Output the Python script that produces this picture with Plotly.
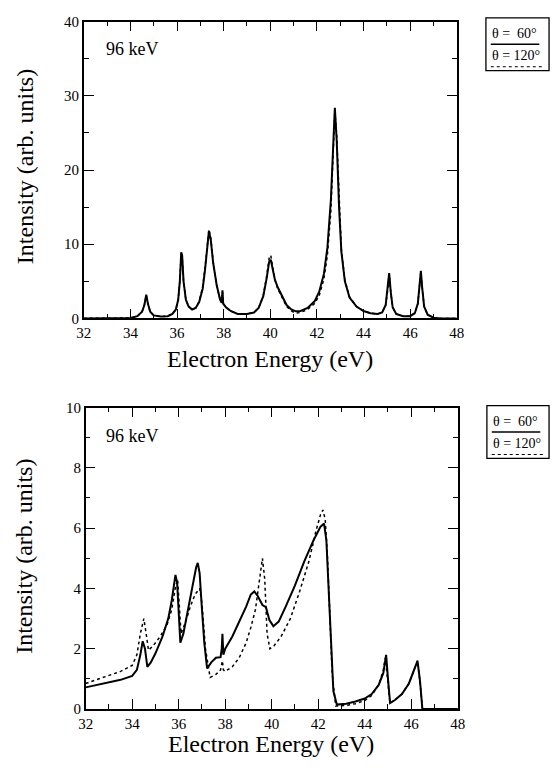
import plotly.graph_objects as go

# ---------------- data ----------------
top_x = [32.0, 33.5, 34.0, 34.3, 34.5, 34.6, 34.68, 34.75, 34.85, 35.0, 35.3, 35.6, 35.8, 35.95,
         36.05, 36.12, 36.18, 36.22, 36.28, 36.38, 36.5, 36.65, 36.8, 36.95, 37.1, 37.2, 37.3,
         37.37, 37.45, 37.55, 37.7, 37.85, 37.92, 37.95, 37.98, 38.1, 38.3, 38.6, 39.0, 39.3,
         39.5, 39.7, 39.85, 39.95, 40.02, 40.1, 40.2, 40.32, 40.5, 40.7, 40.9, 41.1, 41.3, 41.6,
         41.9, 42.1, 42.3, 42.45, 42.6, 42.7, 42.77, 42.85, 42.95, 43.05, 43.2, 43.4, 43.7, 44.0,
         44.3, 44.6, 44.8, 44.95, 45.02, 45.1, 45.17, 45.25, 45.4, 45.7, 46.0, 46.2, 46.33, 46.4,
         46.46, 46.52, 46.6, 46.75, 47.0, 47.3, 48.0]
top_y60 = [0, 0, 0.05, 0.3, 0.9, 1.8, 3.2, 2.0, 0.9, 0.4, 0.25, 0.3, 0.6, 1.2,
           2.5, 5.0, 8.9, 8.5, 5.0, 2.5, 1.6, 1.2, 1.4, 2.2, 4.0, 6.5, 10.0,
           11.8, 10.5, 7.5, 4.5, 2.5, 2.1, 3.8, 2.0, 1.5, 1.0, 0.6, 0.6, 0.8,
           1.4, 3.0, 5.5, 7.6, 7.9, 6.8, 5.2, 4.2, 3.0, 1.8, 1.2, 0.95, 1.0, 1.4,
           2.3, 3.6, 6.0, 9.5, 16.0, 24.0, 28.4, 24.0, 15.0, 9.0, 5.0, 2.8, 1.6, 1.0,
           0.7, 0.6, 0.8, 1.8, 3.5, 6.1, 3.5, 1.5, 0.6, 0.3, 0.3, 0.7, 2.0, 4.0,
           6.4, 4.0, 1.6, 0.5, 0.1, 0, 0]
top_y120 = [0, 0, 0.05, 0.3, 0.9, 1.8, 3.1, 2.0, 0.9, 0.4, 0.25, 0.3, 0.6, 1.2,
            2.5, 5.0, 8.7, 8.4, 5.0, 2.5, 1.6, 1.2, 1.4, 2.3, 4.2, 6.8, 10.4,
            12.0, 10.8, 7.6, 4.5, 2.5, 2.1, 3.6, 2.0, 1.5, 1.0, 0.6, 0.6, 0.8,
            1.4, 3.1, 5.8, 8.1, 8.5, 7.0, 5.2, 4.0, 2.8, 1.6, 1.0, 0.7, 0.8, 1.2,
            2.0, 3.1, 5.3, 8.5, 14.5, 23.0, 28.0, 24.5, 15.5, 9.2, 5.1, 2.9, 1.6, 1.0,
            0.7, 0.6, 0.8, 1.8, 3.4, 6.0, 3.5, 1.5, 0.6, 0.3, 0.3, 0.7, 2.0, 4.0,
            6.3, 4.0, 1.6, 0.5, 0.1, 0, 0]

bot_x60 = [32.0, 32.5, 33.0, 33.5, 34.0, 34.2, 34.35, 34.45, 34.55, 34.65, 34.8, 35.0, 35.3,
           35.55, 35.7, 35.8, 35.86, 35.93, 36.0, 36.07, 36.2, 36.4, 36.6, 36.75, 36.82, 36.9,
           37.0, 37.1, 37.22, 37.4, 37.6, 37.8, 37.85, 37.88, 37.92, 38.0, 38.3, 38.6, 38.9,
           39.1, 39.25, 39.4, 39.6, 39.75, 39.9, 40.07, 40.3, 40.6, 41.0, 41.4, 41.8, 42.1,
           42.25, 42.35, 42.45, 42.55, 42.65, 42.8, 43.2, 43.6, 44.0, 44.3, 44.6, 44.8, 44.92,
           45.0, 45.09, 45.3, 45.6, 45.9, 46.1, 46.27, 46.38, 46.48, 47.0, 48.0]
bot_y60 = [0.72, 0.8, 0.88, 0.97, 1.1, 1.3, 1.8, 2.25, 2.0, 1.4, 1.55, 1.85, 2.4,
           3.0, 3.6, 4.2, 4.45, 4.2, 3.0, 2.2, 2.5, 3.3, 4.2, 4.7, 4.85, 4.5,
           3.3, 2.2, 1.35, 1.55, 1.7, 1.72, 2.0, 2.5, 1.8, 2.0, 2.4, 2.9, 3.4,
           3.8, 3.9, 3.75, 3.45, 3.38, 2.95, 2.75, 2.9, 3.4, 4.1, 4.9, 5.6, 6.05,
           6.15, 5.6, 4.0, 2.0, 0.6, 0.15, 0.18, 0.25, 0.35, 0.5, 0.8, 1.2, 1.8,
           1.0, 0.2, 0.3, 0.5, 0.85, 1.25, 1.6, 0.9, 0.0, 0.0, 0.0]

bot_x120 = [32.0, 32.5, 33.0, 33.5, 34.0, 34.2, 34.35, 34.5, 34.6, 34.7, 34.9, 35.2, 35.5,
            35.7, 35.85, 35.95, 36.02, 36.1, 36.3, 36.5, 36.7, 36.9, 37.0, 37.15, 37.35, 37.6,
            37.8, 37.88, 37.92, 38.0, 38.3, 38.6, 38.9, 39.1, 39.3, 39.45, 39.6, 39.7, 39.8,
            39.92, 40.1, 40.4, 40.8, 41.2, 41.6, 41.9, 42.1, 42.2, 42.3, 42.4, 42.5, 42.6,
            42.75, 43.2, 43.6, 44.0, 44.3, 44.6, 44.8, 44.88, 44.98, 45.09, 45.3, 45.6, 45.9,
            46.1, 46.27, 46.38, 46.48, 47.0, 48.0]
bot_y120 = [0.85, 0.98, 1.1, 1.25, 1.45, 1.8, 2.5, 3.0, 2.5, 1.95, 2.1, 2.4, 2.8,
            3.3, 4.0, 4.3, 3.5, 2.5, 2.9, 3.4, 3.8, 4.0, 3.5, 2.0, 1.05, 1.15,
            1.3, 1.6, 1.3, 1.25, 1.4, 1.7, 2.2, 2.7, 3.3, 4.1, 5.0, 4.3, 2.5,
            2.0, 2.1, 2.4, 3.0, 3.9, 4.9, 5.9, 6.45, 6.6, 6.3, 5.0, 3.0, 1.2,
            0.1, 0.12, 0.18, 0.28, 0.45, 0.8, 1.3, 1.7, 1.0, 0.2, 0.3, 0.5, 0.85,
            1.25, 1.6, 0.9, 0.0, 0.0, 0.0]

x_ticks = [32, 34, 36, 38, 40, 42, 44, 46, 48]
top_y_ticks = [0, 10, 20, 30, 40]
bot_y_ticks = [0, 2, 4, 6, 8, 10]
series_names = ["θ =  60°", "θ = 120°"]
panel_label = "96 keV"
x_title = "Electron Energy (eV)"
y_title = "Intensity (arb. units)"

# ---------------- figure ----------------
W, H = 559, 768
FONT = "Liberation Serif"

def px(x):
    return x / W

def py(y):
    return 1 - y / H

fig = go.Figure()
solid = dict(color="black", width=2)
dotted = dict(color="black", width=1.5, dash="dot")

fig.add_trace(go.Scatter(x=top_x, y=top_y120, mode="lines", line=dotted, name=series_names[1],
                         xaxis="x", yaxis="y", showlegend=False))
fig.add_trace(go.Scatter(x=top_x, y=top_y60, mode="lines", line=solid, name=series_names[0],
                         xaxis="x", yaxis="y", showlegend=False))
fig.add_trace(go.Scatter(x=bot_x120, y=bot_y120, mode="lines", line=dotted, name=series_names[1],
                         xaxis="x2", yaxis="y2", showlegend=False))
fig.add_trace(go.Scatter(x=bot_x60, y=bot_y60, mode="lines", line=solid, name=series_names[0],
                         xaxis="x2", yaxis="y2", showlegend=False))

axis_common = dict(showline=True, linecolor="black", linewidth=1.5, mirror="ticks",
                   ticks="inside", ticklen=10, tickwidth=1.3, tickcolor="black",
                   showgrid=False, zeroline=False, fixedrange=True,
                   tickfont=dict(family=FONT, size=15, color="black"))

fig.update_layout(
    width=W, height=H, margin=dict(l=0, r=0, t=0, b=0),
    paper_bgcolor="white", plot_bgcolor="white", showlegend=False,
    font=dict(family=FONT, color="black"),
    xaxis=dict(domain=[px(78), px(462)], anchor="y", range=[32, 48], tickvals=x_ticks,
               minor=dict(dtick=1, ticklen=5, ticks="inside", tickcolor="black"), **axis_common),
    yaxis=dict(domain=[py(317), py(14)], anchor="x", range=[0, 40], tickvals=top_y_ticks,
               minor=dict(dtick=5, ticklen=5, ticks="inside", tickcolor="black"), **axis_common),
    xaxis2=dict(domain=[px(80), px(463)], anchor="y2", range=[32, 48], tickvals=x_ticks,
                minor=dict(dtick=1, ticklen=5, ticks="inside", tickcolor="black"), **axis_common),
    yaxis2=dict(domain=[py(716), py(408)], anchor="x2", range=[0, 10], tickvals=bot_y_ticks,
                minor=dict(dtick=1, ticklen=5, ticks="inside", tickcolor="black"), **axis_common),
)

ann_font = dict(family=FONT, size=24, color="black")
annotations = []

# axis titles
annotations.append(dict(text=x_title, x=px(270), y=py(358), xref="paper", yref="paper",
                        showarrow=False, font=ann_font, xanchor="center", yanchor="middle"))
annotations.append(dict(text=x_title, x=px(271), y=py(752), xref="paper", yref="paper",
                        showarrow=False, font=ann_font, xanchor="center", yanchor="middle"))
annotations.append(dict(text=y_title, x=px(17), y=py(162), xref="paper", yref="paper",
                        showarrow=False, font=ann_font, textangle=-90,
                        xanchor="center", yanchor="middle"))
annotations.append(dict(text=y_title, x=px(17), y=py(560), xref="paper", yref="paper",
                        showarrow=False, font=ann_font, textangle=-90,
                        xanchor="center", yanchor="middle"))
# panel labels
annotations.append(dict(text=panel_label, x=px(99), y=py(42), xref="paper", yref="paper",
                        showarrow=False, font=dict(family=FONT, size=18, color="black"),
                        xanchor="left", yanchor="middle"))
annotations.append(dict(text=panel_label, x=px(99), y=py(437), xref="paper", yref="paper",
                        showarrow=False, font=dict(family=FONT, size=18, color="black"),
                        xanchor="left", yanchor="middle"))

shapes = []
# custom legends
for (bx0, by0, bx1, by1) in [(492, 10, 557, 64), (493, 406, 557, 460)]:
    shapes.append(dict(type="rect", xref="paper", yref="paper", x0=px(bx0), x1=px(bx1),
                       y0=py(by1), y1=py(by0), line=dict(color="black", width=1.3)))
    t1 = by0 + 16
    l1 = by0 + 27
    t2 = by0 + 39
    l2 = by0 + 50
    annotations.append(dict(text=series_names[0], x=px(bx0 + 4), y=py(t1), xref="paper",
                            yref="paper", showarrow=False, xanchor="left", yanchor="middle",
                            font=dict(family=FONT, size=14, color="black")))
    annotations.append(dict(text=series_names[1], x=px(bx0 + 4), y=py(t2), xref="paper",
                            yref="paper", showarrow=False, xanchor="left", yanchor="middle",
                            font=dict(family=FONT, size=14, color="black")))
    shapes.append(dict(type="line", xref="paper", yref="paper", x0=px(bx0 + 5), x1=px(bx0 + 55),
                       y0=py(l1), y1=py(l1), line=dict(color="black", width=1.5)))
    shapes.append(dict(type="line", xref="paper", yref="paper", x0=px(bx0 + 5), x1=px(bx0 + 60),
                       y0=py(l2), y1=py(l2), line=dict(color="black", width=1.2, dash="dot")))

fig.update_layout(annotations=annotations, shapes=shapes)
fig.write_html("out.html", config={"displayModeBar": False},
               post_script="document.body.style.margin='0';document.body.style.overflow='hidden';")
